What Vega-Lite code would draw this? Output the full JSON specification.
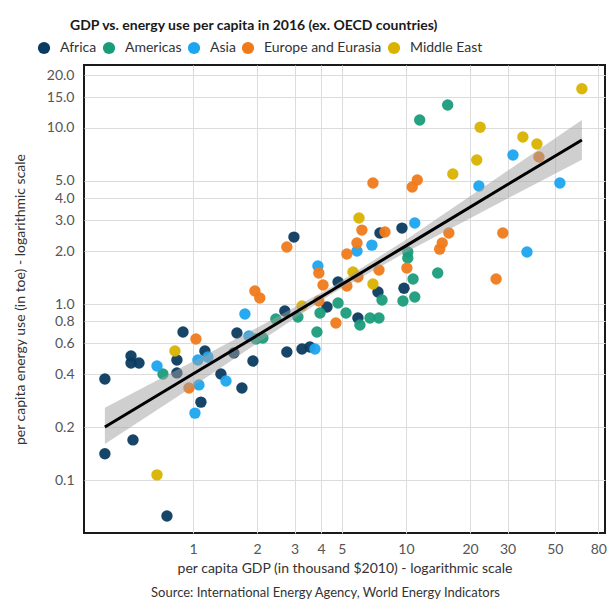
{
  "$schema": "https://vega.github.io/schema/vega-lite/v6.json",
  "width": 521,
  "height": 468,
  "autosize": {"type": "none"},
  "padding": {"left": 84, "top": 65, "right": 3, "bottom": 67},
  "background": "white",
  "config": {
    "font": "Lato",
    "view": {"stroke": "#1a1a1a", "strokeWidth": 2}
  },
  "title": {
    "text": "GDP vs. energy use per capita in 2016 (ex. OECD countries)",
    "anchor": "start",
    "frame": "group",
    "dx": -14,
    "offset": 8,
    "fontSize": 14,
    "fontWeight": "bold",
    "color": "#1a1a1a"
  },
  "datasets": {
    "points": [
      {"region": "Africa", "gdp": 0.386, "energy": 0.375},
      {"region": "Africa", "gdp": 0.386, "energy": 0.141},
      {"region": "Africa", "gdp": 0.512, "energy": 0.507},
      {"region": "Africa", "gdp": 0.512, "energy": 0.462},
      {"region": "Africa", "gdp": 0.558, "energy": 0.462},
      {"region": "Africa", "gdp": 0.523, "energy": 0.169},
      {"region": "Africa", "gdp": 0.755, "energy": 0.0624},
      {"region": "Africa", "gdp": 0.898, "energy": 0.693},
      {"region": "Africa", "gdp": 0.841, "energy": 0.481},
      {"region": "Africa", "gdp": 0.841, "energy": 0.406},
      {"region": "Africa", "gdp": 1.138, "energy": 0.541},
      {"region": "Africa", "gdp": 1.09, "energy": 0.277},
      {"region": "Africa", "gdp": 1.353, "energy": 0.4},
      {"region": "Africa", "gdp": 1.557, "energy": 0.527},
      {"region": "Africa", "gdp": 1.609, "energy": 0.684},
      {"region": "Africa", "gdp": 1.698, "energy": 0.333},
      {"region": "Africa", "gdp": 1.913, "energy": 0.474},
      {"region": "Africa", "gdp": 2.7, "energy": 0.912},
      {"region": "Africa", "gdp": 2.76, "energy": 0.534},
      {"region": "Africa", "gdp": 3.25, "energy": 0.555},
      {"region": "Africa", "gdp": 3.54, "energy": 0.57},
      {"region": "Africa", "gdp": 2.98, "energy": 2.4},
      {"region": "Africa", "gdp": 4.26, "energy": 0.961},
      {"region": "Africa", "gdp": 4.8, "energy": 1.334},
      {"region": "Africa", "gdp": 5.95, "energy": 0.833},
      {"region": "Africa", "gdp": 7.39, "energy": 1.17},
      {"region": "Africa", "gdp": 7.55, "energy": 2.53},
      {"region": "Africa", "gdp": 9.58, "energy": 2.7},
      {"region": "Africa", "gdp": 9.79, "energy": 1.23},
      {"region": "Americas", "gdp": 0.723, "energy": 0.4},
      {"region": "Americas", "gdp": 1.977, "energy": 0.633},
      {"region": "Americas", "gdp": 2.13, "energy": 0.641},
      {"region": "Americas", "gdp": 2.45, "energy": 0.822},
      {"region": "Americas", "gdp": 3.11, "energy": 0.844},
      {"region": "Americas", "gdp": 3.95, "energy": 0.889},
      {"region": "Americas", "gdp": 4.8, "energy": 1.013},
      {"region": "Americas", "gdp": 5.23, "energy": 0.889},
      {"region": "Americas", "gdp": 3.82, "energy": 0.693},
      {"region": "Americas", "gdp": 6.08, "energy": 0.76},
      {"region": "Americas", "gdp": 6.78, "energy": 0.833},
      {"region": "Americas", "gdp": 7.47, "energy": 0.833},
      {"region": "Americas", "gdp": 7.72, "energy": 1.054},
      {"region": "Americas", "gdp": 9.68, "energy": 1.04},
      {"region": "Americas", "gdp": 11.0, "energy": 1.096},
      {"region": "Americas", "gdp": 10.8, "energy": 1.387},
      {"region": "Americas", "gdp": 10.2, "energy": 1.974},
      {"region": "Americas", "gdp": 10.2, "energy": 1.825},
      {"region": "Americas", "gdp": 14.1, "energy": 1.5},
      {"region": "Americas", "gdp": 11.6, "energy": 11.1},
      {"region": "Americas", "gdp": 15.7, "energy": 13.5},
      {"region": "Asia", "gdp": 0.678, "energy": 0.444},
      {"region": "Asia", "gdp": 1.055, "energy": 0.481},
      {"region": "Asia", "gdp": 1.176, "energy": 0.5},
      {"region": "Asia", "gdp": 1.429, "energy": 0.365},
      {"region": "Asia", "gdp": 1.067, "energy": 0.347},
      {"region": "Asia", "gdp": 1.022, "energy": 0.24},
      {"region": "Asia", "gdp": 1.754, "energy": 0.877},
      {"region": "Asia", "gdp": 1.832, "energy": 0.658},
      {"region": "Asia", "gdp": 3.74, "energy": 0.555},
      {"region": "Asia", "gdp": 3.86, "energy": 1.644},
      {"region": "Asia", "gdp": 5.89, "energy": 2.0},
      {"region": "Asia", "gdp": 6.92, "energy": 2.16},
      {"region": "Asia", "gdp": 11.0, "energy": 2.885},
      {"region": "Asia", "gdp": 22.0, "energy": 4.68},
      {"region": "Asia", "gdp": 31.8, "energy": 7.02},
      {"region": "Asia", "gdp": 52.8, "energy": 4.87},
      {"region": "Asia", "gdp": 37.0, "energy": 1.974},
      {"region": "Europe and Eurasia", "gdp": 1.033, "energy": 0.633},
      {"region": "Europe and Eurasia", "gdp": 0.958, "energy": 0.333},
      {"region": "Europe and Eurasia", "gdp": 1.954, "energy": 1.186},
      {"region": "Europe and Eurasia", "gdp": 2.06, "energy": 1.082},
      {"region": "Europe and Eurasia", "gdp": 2.76, "energy": 2.11},
      {"region": "Europe and Eurasia", "gdp": 3.9, "energy": 1.5},
      {"region": "Europe and Eurasia", "gdp": 4.08, "energy": 1.282},
      {"region": "Europe and Eurasia", "gdp": 5.28, "energy": 1.923},
      {"region": "Europe and Eurasia", "gdp": 5.89, "energy": 2.22},
      {"region": "Europe and Eurasia", "gdp": 6.21, "energy": 2.63},
      {"region": "Europe and Eurasia", "gdp": 5.28, "energy": 1.266},
      {"region": "Europe and Eurasia", "gdp": 4.69, "energy": 0.78},
      {"region": "Europe and Eurasia", "gdp": 3.9, "energy": 1.04},
      {"region": "Europe and Eurasia", "gdp": 5.95, "energy": 1.423},
      {"region": "Europe and Eurasia", "gdp": 7.47, "energy": 1.56},
      {"region": "Europe and Eurasia", "gdp": 7.0, "energy": 4.87},
      {"region": "Europe and Eurasia", "gdp": 7.97, "energy": 2.565},
      {"region": "Europe and Eurasia", "gdp": 10.1, "energy": 1.6},
      {"region": "Europe and Eurasia", "gdp": 10.7, "energy": 4.62},
      {"region": "Europe and Eurasia", "gdp": 11.3, "energy": 5.06},
      {"region": "Europe and Eurasia", "gdp": 14.4, "energy": 2.05},
      {"region": "Europe and Eurasia", "gdp": 14.8, "energy": 2.22},
      {"region": "Europe and Eurasia", "gdp": 15.9, "energy": 2.53},
      {"region": "Europe and Eurasia", "gdp": 28.5, "energy": 2.53},
      {"region": "Europe and Eurasia", "gdp": 26.5, "energy": 1.387},
      {"region": "Europe and Eurasia", "gdp": 42.1, "energy": 6.84},
      {"region": "Middle East", "gdp": 0.678, "energy": 0.107},
      {"region": "Middle East", "gdp": 0.823, "energy": 0.541},
      {"region": "Middle East", "gdp": 3.25, "energy": 0.974},
      {"region": "Middle East", "gdp": 5.64, "energy": 1.52},
      {"region": "Middle East", "gdp": 6.02, "energy": 3.08},
      {"region": "Middle East", "gdp": 7.0, "energy": 1.3},
      {"region": "Middle East", "gdp": 16.6, "energy": 5.48},
      {"region": "Middle East", "gdp": 21.5, "energy": 6.58},
      {"region": "Middle East", "gdp": 22.3, "energy": 10.1},
      {"region": "Middle East", "gdp": 35.4, "energy": 8.89},
      {"region": "Middle East", "gdp": 41.2, "energy": 8.11},
      {"region": "Middle East", "gdp": 67.0, "energy": 16.7}
    ],
    "trend": [
      {"x": 0.386, "fit": 0.2, "lo": 0.16, "hi": 0.257},
      {"x": 1, "fit": 0.4, "lo": 0.34, "hi": 0.472},
      {"x": 2, "fit": 0.662, "lo": 0.598, "hi": 0.733},
      {"x": 4.5, "fit": 1.197, "lo": 1.143, "hi": 1.253},
      {"x": 10, "fit": 2.14, "lo": 1.97, "hi": 2.32},
      {"x": 30, "fit": 4.77, "lo": 3.98, "hi": 5.72},
      {"x": 67, "fit": 8.55, "lo": 6.6, "hi": 11.1}
    ]
  },
  "layer": [
    {
      "data": {"name": "points"},
      "mark": {"type": "circle", "size": 130, "opacity": 0.95},
      "encoding": {
        "x": {
          "field": "gdp", "type": "quantitative",
          "scale": {"type": "log", "domain": [0.308, 86], "nice": false},
          "axis": {
            "orient": "bottom",
            "values": [1, 2, 3, 4, 5, 10, 20, 30, 50, 80],
            "format": "~g",
            "ticks": false, "domain": false,
            "grid": true, "gridColor": "#dcdcdc",
            "labelPadding": 9, "labelFontSize": 14, "labelColor": "#555",
            "labelOverlap": false, "labelFlush": false,
            "title": "per capita GDP (in thousand $2010) - logarithmic scale",
            "titleFontSize": 14, "titleFontWeight": "normal", "titleColor": "#333",
            "titlePadding": 5
          }
        },
        "y": {
          "field": "energy", "type": "quantitative",
          "scale": {"type": "log", "domain": [0.05, 22.8], "nice": false},
          "axis": {
            "values": [0.1, 0.2, 0.4, 0.6, 0.8, 1, 2, 3, 4, 5, 10, 15, 20],
            "format": ".1f",
            "ticks": false, "domain": false,
            "grid": true, "gridColor": "#dcdcdc",
            "labelPadding": 10, "labelFontSize": 14, "labelColor": "#555",
            "labelOverlap": false, "labelFlush": false,
            "title": "per capita energy use (in toe) - logarithmic scale",
            "titleFontSize": 14, "titleFontWeight": "normal", "titleColor": "#333",
            "titlePadding": 19
          }
        },
        "color": {
          "field": "region", "type": "nominal",
          "scale": {
            "domain": ["Africa", "Americas", "Asia", "Europe and Eurasia", "Middle East"],
            "range": ["#0b3b60", "#1a9c7b", "#1ca5f0", "#f07a1a", "#d9b300"]
          },
          "legend": {
            "orient": "none", "direction": "horizontal",
            "legendX": -47, "legendY": -24,
            "title": null,
            "symbolType": "circle", "symbolSize": 150, "symbolStrokeWidth": 0, "symbolOpacity": 1,
            "labelFontSize": 14, "labelColor": "#333", "labelOffset": 9,
            "columnPadding": 5
          }
        }
      }
    },
    {
      "data": {"name": "trend"},
      "mark": {"type": "area", "color": "#a0a0a0", "opacity": 0.5},
      "encoding": {
        "x": {"field": "x", "type": "quantitative", "scale": {"type": "log", "domain": [0.308, 86], "nice": false}, "axis": null},
        "y": {"field": "lo", "type": "quantitative", "scale": {"type": "log", "domain": [0.05, 22.8], "nice": false}, "title": "per capita energy use (in toe) - logarithmic scale"},
        "y2": {"field": "hi"}
      }
    },
    {
      "data": {"name": "trend"},
      "mark": {"type": "line", "color": "black", "strokeWidth": 3},
      "encoding": {
        "x": {
          "field": "x", "type": "quantitative",
          "scale": {"type": "log", "domain": [0.308, 86], "nice": false},
          "axis": {
            "orient": "bottom",
            "labels": false, "ticks": false, "domain": false, "grid": false,
            "title": "Source: International Energy Agency, World Energy Indicators",
            "titleFontSize": 13, "titleFontWeight": "normal", "titleColor": "#333",
            "titlePadding": 53, "titleX": 241
          }
        },
        "y": {"field": "fit", "type": "quantitative", "scale": {"type": "log", "domain": [0.05, 22.8], "nice": false}, "title": "per capita energy use (in toe) - logarithmic scale"}
      }
    }
  ],
  "resolve": {"axis": {"x": "independent"}}
}
